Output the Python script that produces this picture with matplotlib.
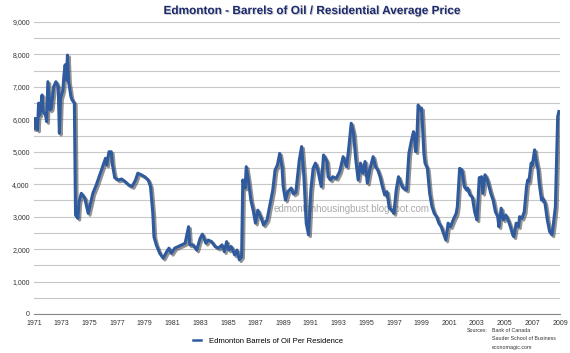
import matplotlib
matplotlib.use("Agg")
import matplotlib.pyplot as plt
import matplotlib.patheffects as pe
from matplotlib.lines import Line2D
import numpy as np

# months since Jan 1971 and barrels of oil per residence
months = [0, 1, 3, 4, 5, 7, 8, 10, 11, 12, 14, 15, 17, 19, 21, 22, 23, 25, 26, 27,
          28, 29, 30, 32, 33, 35, 36, 38, 39, 41, 44, 47, 49, 51, 54, 57, 59, 62, 63, 65,
          67, 68, 70, 73, 76, 79, 82, 85, 88, 90, 93, 96, 99, 101, 103, 104, 106, 109, 112, 115,
          117, 119, 122, 125, 128, 131, 134, 135, 138, 141, 144, 146, 149, 151, 154, 157, 160, 163, 165, 167,
          169, 171, 174, 176, 178, 180, 181, 183, 184, 186, 188, 190, 192, 194, 197, 199, 202, 205, 207, 209,
          211, 213, 215, 216, 218, 220, 223, 225, 227, 230, 232, 234, 236, 238, 240, 242, 244, 246, 249, 251,
          254, 255, 257, 259, 262, 265, 268, 271, 273, 275, 277, 279, 281, 283, 285, 287, 289, 291, 294, 296,
          298, 300, 302, 304, 306, 308, 310, 312, 314, 316, 318, 320, 323, 325, 327, 329, 330, 331, 332, 333,
          335, 336, 338, 339, 341, 343, 345, 347, 349, 351, 353, 355, 357, 359, 361, 364, 366, 367, 369, 371,
          373, 375, 376, 378, 380, 382, 384, 386, 388, 389, 391, 393, 396, 398, 400, 402, 403, 405, 407, 409,
          411, 413, 415, 416, 418, 420, 421, 423, 425, 427, 428, 429, 431, 432, 434, 435, 437, 438, 440, 441,
          443, 445, 447, 449, 450, 452, 454, 455]
barrels = [5720, 6030, 5670, 6500, 6130, 6750, 6240, 6130, 5930, 7160, 6290, 6340, 7000, 7160, 7000, 5570, 6650, 6900, 7370, 7680,
           7210, 7980, 7160, 6700, 6600, 6500, 3050, 2950, 3460, 3720, 3570, 3100, 3410, 3720, 3980, 4290, 4490, 4800, 4590, 5000,
           5000, 4600, 4200, 4130, 4160, 4080, 3980, 3930, 4130, 4340, 4290, 4230, 4130, 3930, 3100, 2380, 2130, 1870, 1720, 1920,
           2030, 1870, 2030, 2080, 2130, 2180, 2690, 2130, 2130, 1970, 2330, 2460, 2180, 2280, 2230, 2080, 2030, 2130, 1920, 2230,
           1970, 2080, 1820, 1970, 1670, 1770, 4130, 3880, 4540, 4080, 3510, 3200, 2800, 3200, 2950, 2740, 2900, 3460, 3820, 4440,
           4590, 4950, 4540, 3930, 3510, 3770, 3880, 3700, 3750, 4750, 5160, 4230, 2800, 2440, 3820, 4490, 4650, 4440, 3930, 4900,
           4700, 4230, 4130, 4230, 4180, 4390, 4850, 4540, 5160, 5880, 5570, 4750, 4130, 4650, 4340, 4700, 4030, 4440, 4850, 4540,
           4440, 4230, 3930, 3670, 3770, 3260, 3210, 3100, 3820, 4230, 4030, 3880, 3820, 4950, 5310, 5620, 5420, 5000, 5470, 6440,
           6290, 6340, 4950, 4650, 4490, 3720, 3310, 3100, 3000, 2800, 2690, 2490, 2280, 2800, 2690, 2950, 3100, 3310, 4490, 4440,
           3930, 3820, 3880, 3670, 3600, 3150, 2900, 4200, 4230, 3720, 4290, 4130, 3720, 3510, 3150, 3000, 2690, 3260, 2900, 3050,
           2900, 2690, 2440, 2380, 2800, 2690, 3000, 2950, 3150, 3930, 4130, 4080, 4650, 4590, 5060, 4800, 4440, 4030, 3510, 3570,
           3410, 2900, 2540, 2440, 2690, 3310, 6080, 6240]

tick_months = list(range(0, 457, 24))
tick_labels = [str(1971 + m // 12) for m in tick_months]
y_ticks = list(range(0, 9001, 1000))
y_labels = ["{:,}".format(v) for v in y_ticks]

plt.rcParams['font.family'] = ['Liberation Sans', 'DejaVu Sans']

fig = plt.figure(figsize=(5.7, 3.53), dpi=100)
ax = fig.add_axes([34 / 570, 39 / 353, 526 / 570, 292 / 353])

line_color = '#2f5a9e'
ax.plot(months, barrels, color=line_color, lw=2.2, solid_joinstyle='round',
        path_effects=[pe.SimpleLineShadow(offset=(1.3, -1.3), shadow_color='#4a4a4a', alpha=0.6),
                      pe.Normal()], zorder=3)

ax.set_xlim(0, 456)
ax.set_ylim(0, 9000)
ax.set_xticks(tick_months)
ax.set_xticklabels(tick_labels, fontsize=5, color='#333333')
ax.set_yticks(y_ticks)
ax.set_yticklabels(y_labels, fontsize=5, color='#333333')
ax.set_yticks(list(range(500, 9000, 1000)), minor=True)
ax.tick_params(axis='both', length=0)
ax.tick_params(axis='x', pad=4)
ax.tick_params(axis='y', pad=3)
ax.tick_params(axis='y', which='minor', length=0)
ax.grid(axis='y', which='both', color='#c8c8c8', lw=0.8)
for s in ['top', 'right', 'left']:
    ax.spines[s].set_visible(False)
ax.spines['bottom'].set_color('#888888')
ax.spines['bottom'].set_linewidth(0.8)

fig.text(312 / 570, 1 - 11 / 353, 'Edmonton - Barrels of Oil / Residential Average Price',
         ha='center', va='center', fontsize=8.5, fontweight='bold', color='#1c2a6e',
         path_effects=[pe.SimplePatchShadow(offset=(0.7, -0.7), shadow_rgbFace='#999999', alpha=0.5),
                       pe.Normal()])

ax.text(352 / 570, 1 - 209 / 353, 'edmontonhousingbust.blogspot.com', transform=fig.transFigure,
        ha='center', va='center', fontsize=7, color='#aaaaaa', zorder=2)

handle = Line2D([], [], color=line_color, lw=1.8)
fig.legend(handles=[handle], labels=['Edmonton Barrels of Oil Per Residence'],
           loc='center', bbox_to_anchor=(268 / 570, 1 - 341 / 353), frameon=False,
           fontsize=5.5, handlelength=1.0, handletextpad=1.0)

fig.text(467 / 570, 1 - 330 / 353, 'Sources:', fontsize=3.8, color='#333333', va='center')
fig.text(492 / 570, 1 - 330 / 353, 'Bank of Canada', fontsize=3.8, color='#333333', va='center')
fig.text(492 / 570, 1 - 339 / 353, 'Sauder School of Business', fontsize=3.8, color='#333333', va='center')
fig.text(492 / 570, 1 - 348 / 353, 'economagic.com', fontsize=3.8, color='#333333', va='center')

fig.savefig('out.png', dpi=100)
